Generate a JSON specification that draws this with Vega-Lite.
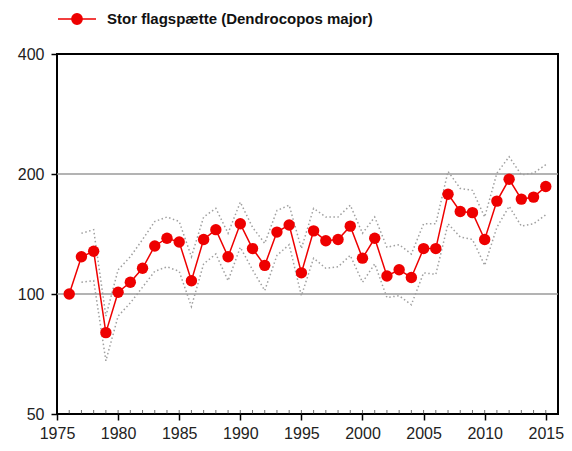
{
  "$schema": "https://vega.github.io/schema/vega-lite/v6.json",
  "width": 501,
  "height": 360,
  "autosize": {"type": "none"},
  "padding": {"left": 57, "top": 54, "right": 14, "bottom": 37},
  "background": "white",
  "config": {
    "font": "Liberation Sans",
    "view": {"stroke": "black", "strokeWidth": 2},
    "axis": {"labelFont": "Liberation Sans", "labelFontSize": 16, "labelColor": "#222", "title": null}
  },
  "data": {
    "values": [
      {"year": 1976, "value": 100},
      {"year": 1977, "value": 124, "lo": 107, "hi": 142},
      {"year": 1978, "value": 128, "lo": 108, "hi": 145},
      {"year": 1979, "value": 80, "lo": 68, "hi": 88},
      {"year": 1980, "value": 101, "lo": 88, "hi": 115},
      {"year": 1981, "value": 107, "lo": 95, "hi": 124},
      {"year": 1982, "value": 116, "lo": 104, "hi": 137},
      {"year": 1983, "value": 132, "lo": 114, "hi": 152},
      {"year": 1984, "value": 138, "lo": 117, "hi": 156},
      {"year": 1985, "value": 135, "lo": 114, "hi": 152},
      {"year": 1986, "value": 108, "lo": 93, "hi": 124},
      {"year": 1987, "value": 137, "lo": 119, "hi": 156},
      {"year": 1988, "value": 145, "lo": 126, "hi": 164},
      {"year": 1989, "value": 124, "lo": 108, "hi": 142},
      {"year": 1990, "value": 150, "lo": 131, "hi": 170},
      {"year": 1991, "value": 130, "lo": 115, "hi": 147},
      {"year": 1992, "value": 118, "lo": 102, "hi": 134},
      {"year": 1993, "value": 143, "lo": 125, "hi": 162},
      {"year": 1994, "value": 149, "lo": 133, "hi": 167},
      {"year": 1995, "value": 113, "lo": 99, "hi": 130},
      {"year": 1996, "value": 144, "lo": 123, "hi": 164},
      {"year": 1997, "value": 136, "lo": 116, "hi": 156},
      {"year": 1998, "value": 137, "lo": 117, "hi": 156},
      {"year": 1999, "value": 148, "lo": 125, "hi": 167},
      {"year": 2000, "value": 123, "lo": 107, "hi": 142},
      {"year": 2001, "value": 138, "lo": 119, "hi": 156},
      {"year": 2002, "value": 111, "lo": 98, "hi": 131},
      {"year": 2003, "value": 115, "lo": 99, "hi": 133},
      {"year": 2004, "value": 110, "lo": 94, "hi": 126},
      {"year": 2005, "value": 130, "lo": 113, "hi": 150},
      {"year": 2006, "value": 130, "lo": 112, "hi": 150},
      {"year": 2007, "value": 178, "lo": 150, "hi": 203},
      {"year": 2008, "value": 161, "lo": 139, "hi": 184},
      {"year": 2009, "value": 160, "lo": 137, "hi": 182},
      {"year": 2010, "value": 137, "lo": 118, "hi": 156},
      {"year": 2011, "value": 171, "lo": 147, "hi": 201},
      {"year": 2012, "value": 194, "lo": 166, "hi": 221},
      {"year": 2013, "value": 173, "lo": 148, "hi": 199},
      {"year": 2014, "value": 175, "lo": 150, "hi": 201},
      {"year": 2015, "value": 186, "lo": 158, "hi": 211}
    ]
  },
  "layer": [
    {
      "mark": {"type": "rule", "color": "#9a9a9a", "strokeWidth": 1.5},
      "data": {"values": [{"g": 100}, {"g": 200}]},
      "encoding": {
        "y": {"field": "g", "type": "quantitative", "scale": {"type": "log", "domain": [50, 400]}}
      }
    },
    {
      "mark": {"type": "tick", "color": "#333", "thickness": 1, "size": 4, "orient": "vertical", "yOffset": -2},
      "encoding": {
        "x": {"field": "year", "type": "quantitative"},
        "y": {"datum": 50, "type": "quantitative"}
      }
    },
    {
      "mark": {"type": "line", "color": "#a0a0a0", "strokeWidth": 1.5, "strokeDash": [1.5, 2.5]},
      "transform": [{"filter": "datum.hi != null"}],
      "encoding": {
        "x": {"field": "year", "type": "quantitative"},
        "y": {"field": "hi", "type": "quantitative"}
      }
    },
    {
      "mark": {"type": "line", "color": "#a0a0a0", "strokeWidth": 1.5, "strokeDash": [1.5, 2.5]},
      "transform": [{"filter": "datum.lo != null"}],
      "encoding": {
        "x": {"field": "year", "type": "quantitative"},
        "y": {"field": "lo", "type": "quantitative"}
      }
    },
    {
      "mark": {"type": "line", "strokeWidth": 1.5, "point": {"filled": true, "size": 130, "opacity": 1}},
      "encoding": {
        "x": {
          "field": "year", "type": "quantitative",
          "scale": {"domain": [1975, 2016], "nice": false, "zero": false},
          "axis": {"values": [1975, 1980, 1985, 1990, 1995, 2000, 2005, 2010, 2015], "format": "d", "tickSize": 6, "tickColor": "black", "tickWidth": 1.5, "domain": false, "grid": false, "labelPadding": 5, "labelFlush": false}
        },
        "y": {
          "field": "value", "type": "quantitative",
          "scale": {"type": "log", "domain": [50, 400], "nice": false},
          "axis": {"values": [50, 100, 200, 400], "tickSize": 6, "tickColor": "black", "tickWidth": 1.5, "domain": false, "grid": false, "labelPadding": 7, "labelFlush": false}
        },
        "color": {
          "datum": "Stor flagspætte (Dendrocopos major)",
          "type": "nominal",
          "scale": {"range": ["#ee0000"]},
          "legend": {
            "title": null,
            "orient": "none",
            "legendX": 0,
            "legendY": -55,
            "symbolType": "M-1,0H1M-0.27,0A0.27,0.27 0 1,1 0.27,0A0.27,0.27 0 1,1 -0.27,0Z",
            "symbolSize": 1450,
            "symbolStrokeWidth": 1.5,
            "symbolFillColor": "#ee0000",
            "labelFontSize": 15,
            "labelFontWeight": "bold",
            "labelColor": "#111",
            "labelLimit": 400,
            "labelOffset": 10
          }
        }
      }
    }
  ]
}
